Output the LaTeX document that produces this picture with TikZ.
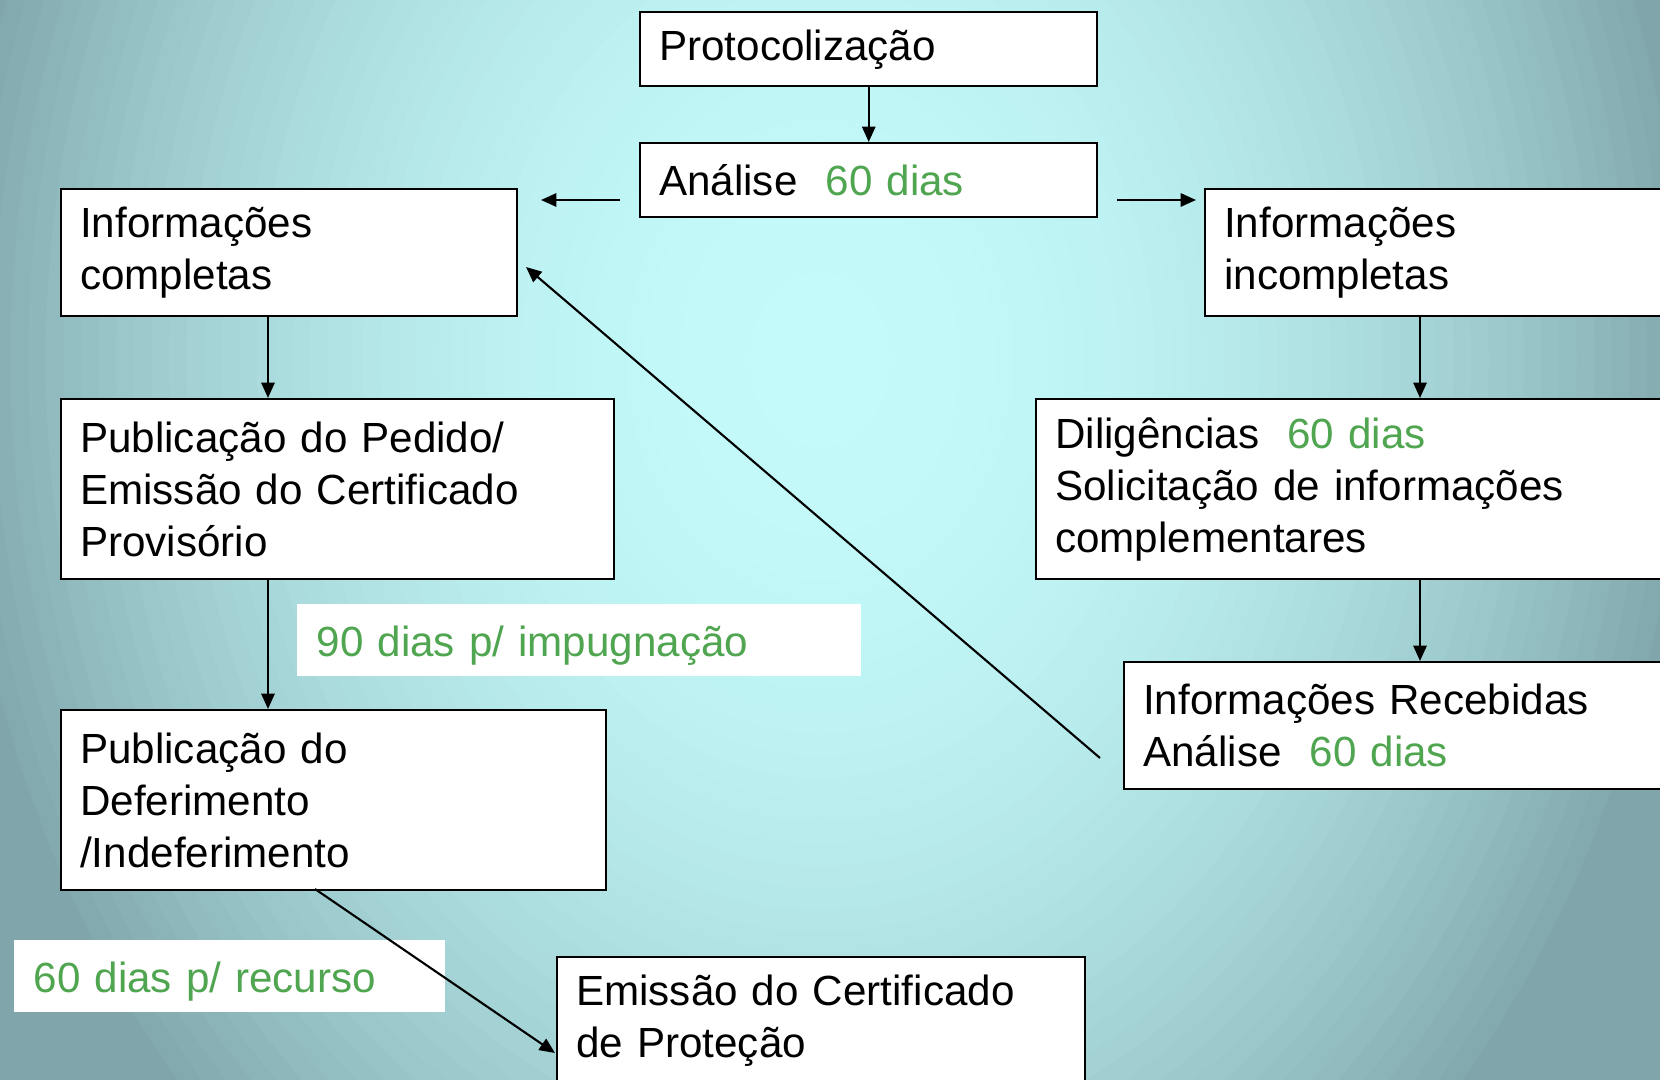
\documentclass[tikz,border=0pt]{standalone}
\usepackage{fontspec}
\setmainfont{Liberation Sans}
\usepackage{xcolor}
\usepackage{tikz}
\usetikzlibrary{calc,arrows.meta}
\definecolor{bgin}{HTML}{C4FAFA}
\definecolor{bgout}{HTML}{80A6AB}
\definecolor{prazo}{HTML}{50A550}
\tikzset{
  box/.style={draw=black, fill=white, line width=0.7pt, anchor=north west, align=left,
    inner xsep=0.19cm, inner ysep=0pt, font=\fontsize{12}{14.8}\selectfont},
  tag/.style={fill=white, anchor=north west, align=left, text=prazo,
    inner xsep=0.2cm, inner ysep=0pt, text height=0.42cm, text depth=0.09cm,
    font=\fontsize{12}{14.8}\selectfont},
  arr/.style={-{Triangle[length=4.4pt,width=3.8pt]}, line width=0.6pt}
}

\begin{document}
\begin{tikzpicture}
  \useasboundingbox (0,0) rectangle (16.6,-10.8);
  % background, light in the middle
  \begin{scope}
    \clip (0,0) rectangle (16.6,-10.8);
    \fill[bgout] (0,0) rectangle (16.6,-10.8);
    \foreach \t in {1.00,0.98,...,0.01} {
      \pgfmathsetmacro\p{max(0,min(100,100*(1-\t^2.2)))}
      \fill[bgin!\p!bgout] (8.2,-3.6) ellipse [x radius=8.8*\t, y radius=11*\t];
    }
  \end{scope}

  \node[box, minimum width=4.57cm, minimum height=0.74cm, text width=4.19cm] (proto) at (6.39,-0.11) {Protocolização};
  \node[box, minimum width=4.57cm, minimum height=0.74cm, text width=4.19cm] (anal) at (6.39,-1.42) {Análise\ \ \textcolor{prazo}{60 dias}};
  \node[box, minimum width=4.56cm, minimum height=1.27cm, text width=4.18cm] (compl) at (0.60,-1.88) {Informações\\completas};
  \node[box, minimum width=4.70cm, minimum height=1.27cm, text width=4.32cm] (incompl) at (12.04,-1.88) {Informações\\incompletas};
  \node[box, minimum width=5.53cm, minimum height=1.80cm, text width=5.15cm] (pedido) at (0.60,-3.98) {Publicação do Pedido/\\Emissão do Certificado\\Provisório};
  \node[box, minimum width=6.40cm, minimum height=1.80cm, text width=6.02cm] (dilig) at (10.35,-3.98) {Diligências\ \ \textcolor{prazo}{60 dias}\\Solicitação de informações\\complementares};
  \node[box, minimum width=5.50cm, minimum height=1.27cm, text width=5.12cm] (receb) at (11.23,-6.61) {Informações Recebidas\\Análise\ \ \textcolor{prazo}{60 dias}};
  \node[box, minimum width=5.45cm, minimum height=1.80cm, text width=5.07cm] (defer) at (0.60,-7.09) {Publicação do\\Deferimento\\/Indeferimento};
  \node[box, minimum width=5.28cm, minimum height=1.26cm, text width=4.90cm] (emiss) at (5.56,-9.56) {Emissão do Certificado\\de Proteção};

  \node[tag, minimum width=5.64cm, minimum height=0.72cm, text width=5.24cm] (impug) at (2.96,-6.03) {90 dias p/ impugnação};
  \node[tag, minimum width=4.31cm, minimum height=0.72cm, text width=3.91cm] (recurso) at (0.13,-9.39) {60 dias p/ recurso};

  \coordinate (colL) at (2.68,0);
  \coordinate (colR) at (14.20,0);
  \coordinate (toL) at (6.20,-2.00);
  \coordinate (endL) at (5.41,-2.00);
  \coordinate (toR) at (11.17,-2.00);
  \coordinate (endR) at (11.96,-2.00);
  \coordinate (back) at (11.00,-7.58);
  \coordinate (backtip) at (5.26,-2.67);
  \coordinate (down) at (3.15,-8.89);
  \coordinate (downtip) at (5.55,-10.53);

  \draw[arr] (proto.south) -- (anal.north);
  \draw[arr] (toL) -- (endL);
  \draw[arr] (toR) -- (endR);
  \draw[arr] (colL |- compl.south) -- (colL |- pedido.north);
  \draw[arr] (colL |- pedido.south) -- (colL |- defer.north);
  \draw[arr] (colR |- incompl.south) -- (colR |- dilig.north);
  \draw[arr] (colR |- dilig.south) -- (colR |- receb.north);
  \draw[arr] (back) -- (backtip);
  \draw[arr] (down) -- (downtip);
\end{tikzpicture}
\end{document}
